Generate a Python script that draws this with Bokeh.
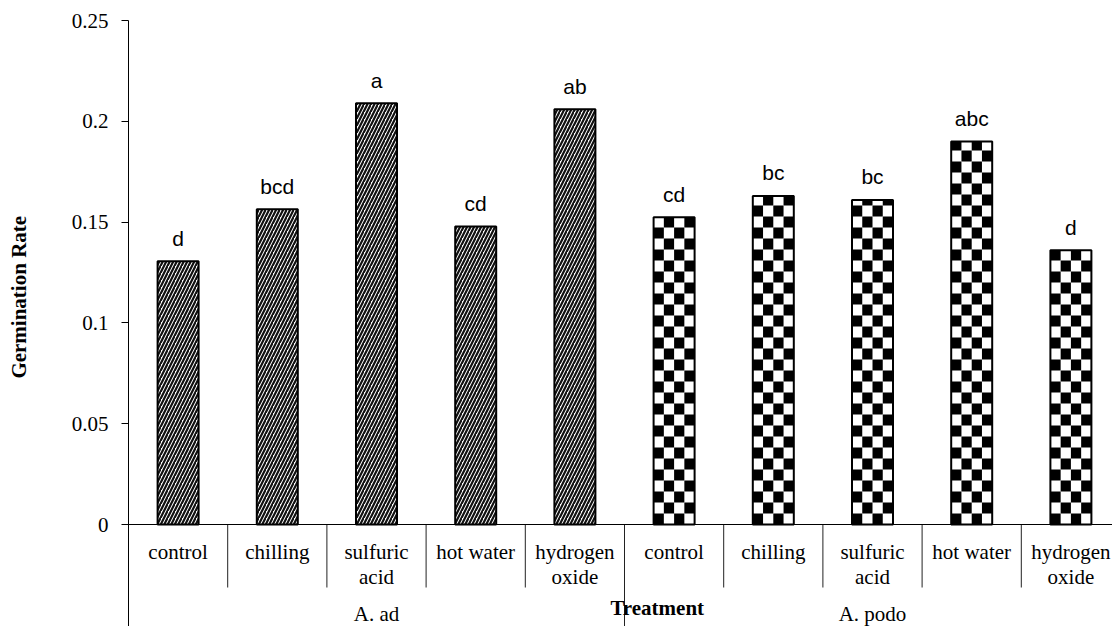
import math
from bokeh.plotting import figure
from bokeh.models import Range1d, FixedTicker, Span
from bokeh.core.properties import value
from bokeh.embed import file_html
from bokeh.resources import INLINE

# ---- data ----
treatments = ["control", "chilling", "sulfuric\nacid", "hot water", "hydrogen\noxide"]
species = ["A. ad", "A. podo"]
ad_rates = [0.1306, 0.1564, 0.209, 0.1478, 0.206]
podo_rates = [0.1524, 0.163, 0.161, 0.190, 0.136]
ad_letters = ["d", "bcd", "a", "cd", "ab"]
podo_letters = ["cd", "bc", "bc", "abc", "d"]
y_ticks = [0, 0.05, 0.1, 0.15, 0.2, 0.25]
y_tick_labels = ["0", "0.05", "0.1", "0.15", "0.2", "0.25"]
x_title = "Treatment"
y_title = "Germination Rate"

# ---- layout ----
W, H = 1112, 626
LEFT, TOP = 128, 20
CAT_PX = 99.2
PPU = 504 / 0.25          # pixels per data unit on y
frame_w = W - LEFT
frame_h = H - TOP
x_end = frame_w / CAT_PX
y_start = 0.25 - frame_h / PPU
BAR_W = 41 / CAT_PX
SERIF = "Liberation Serif"
SANS = "Liberation Sans"
FS = "21px"

p = figure(width=W, height=H, x_range=Range1d(0, x_end), y_range=Range1d(y_start, 0.25),
           output_backend="svg", toolbar_location=None, x_axis_location=None,
           min_border_left=LEFT, min_border_top=TOP, min_border_right=0, min_border_bottom=0)
p.outline_line_color = None
p.grid.visible = False
p.background_fill_color = "white"

ax = p.yaxis[0]
ax.ticker = FixedTicker(ticks=y_ticks)
ax.major_label_overrides = dict(zip(y_ticks, y_tick_labels))
ax.minor_tick_line_color = None
ax.major_tick_in = 0
ax.major_tick_out = 7
ax.major_label_standoff = 13
ax.major_label_text_font = SERIF
ax.major_label_text_font_size = FS
ax.major_label_text_color = "black"
ax.axis_line_color = "black"
ax.major_tick_line_color = "black"
# leading non-breaking spaces nudge the rotated title upward
ax.axis_label = "\u00a0" * 10 + y_title
ax.axis_label_text_font = SERIF
ax.axis_label_text_font_style = "bold"
ax.axis_label_text_font_size = FS
ax.axis_label_text_color = "black"
ax.axis_label_standoff = 38

n = len(treatments)
ad_x = [i + 0.5 for i in range(n)]
podo_x = [n + i + 0.5 for i in range(n)]

# A. ad bars: diagonal hatch
p.vbar(x=ad_x, top=ad_rates, bottom=0, width=BAR_W, fill_color="white",
       line_color="black", line_width=2, hatch_pattern="/", hatch_color="#111111",
       hatch_weight=2.2, hatch_scale=7)

# A. podo bars: checkerboard
p.vbar(x=podo_x, top=podo_rates, bottom=0, width=BAR_W, fill_color="white", line_color=None)
cw = BAR_W / 4
ch = 11 / PPU
L, R, B, T = [], [], [], []
for cx, v in zip(podo_x, podo_rates):
    rows = math.ceil(v / ch)
    for r in range(rows):
        for c in range(4):
            if (r + c) % 2 == 0:
                l = cx - BAR_W / 2 + c * cw
                L.append(l); R.append(l + cw)
                B.append(r * ch); T.append(min((r + 1) * ch, v))
p.quad(left=L, right=R, bottom=B, top=T, fill_color="black", line_color=None)
p.vbar(x=podo_x, top=podo_rates, bottom=0, width=BAR_W, fill_color=None,
       line_color="black", line_width=2)

# significance letters
p.text(x=ad_x + podo_x, y=ad_rates + podo_rates, text=ad_letters + podo_letters,
       y_offset=-23, text_align="center", text_baseline="middle",
       text_font=value(SANS), text_font_size=FS, text_color="black")

# x axis baseline
p.add_layout(Span(location=0, dimension="width", line_color="black", line_width=1))

# category labels (split lines)
lx, ly, lt, lo = [], [], [], []
for gx in (ad_x, podo_x):
    for x, lab in zip(gx, treatments):
        for k, line in enumerate(lab.split("\n")):
            lx.append(x); ly.append(0); lt.append(line); lo.append(27 + 25 * k)
p.text(x=lx, y=ly, text=lt, y_offset=lo, text_align="center", text_baseline="middle",
       text_font=value(SERIF), text_font_size=FS, text_color="black")

# separators
sep_x = [i for i in range(1, 2 * n) if i != n]
sep_bot = -63 / PPU
p.segment(x0=sep_x, y0=[0] * len(sep_x), x1=sep_x, y1=[sep_bot] * len(sep_x),
          line_color="#222222", line_width=1)
p.segment(x0=[n], y0=[0], x1=[n], y1=[y_start], line_color="#222222", line_width=1)

# group labels
p.text(x=[n / 2, n + n / 2], y=[0, 0], text=species, y_offset=89, text_align="center",
       text_baseline="middle", text_font=value(SERIF), text_font_size=FS, text_color="black")
p.text(x=[n + 0.33], y=[0], text=[x_title], y_offset=83, text_align="center",
       text_baseline="middle", text_font=value(SERIF), text_font_size=FS,
       text_font_style="bold", text_color="black")

open("out.html", "w").write(file_html(p, INLINE))
